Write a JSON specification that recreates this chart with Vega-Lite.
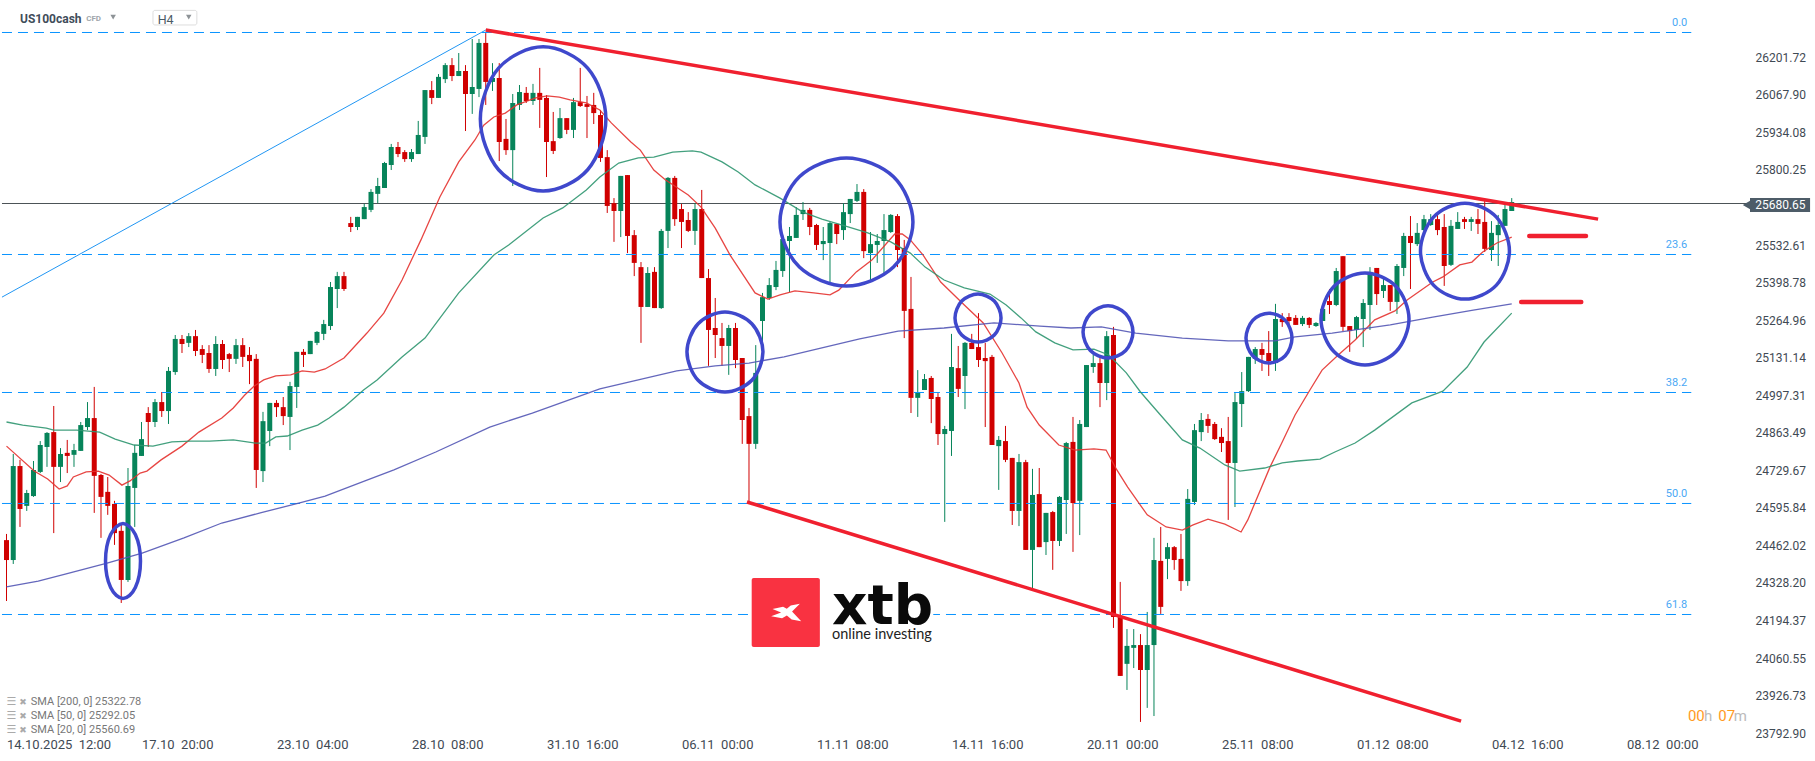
{"$schema":"https://vega.github.io/schema/vega-lite/v6.json","width":1750,"height":740,"autosize":"none","padding":{"left":0,"top":0,"right":65,"bottom":21},"background":"#ffffff","config":{"view":{"stroke":null},"font":"Roboto"},
"datasets":{
"candles":[{"i":0,"o":24481,"h":24503,"l":24264,"c":24410},{"i":1,"o":24410,"h":24788,"l":24396,"c":24745},{"i":2,"o":24745,"h":24767,"l":24528,"c":24592},{"i":3,"o":24603,"h":24660,"l":24585,"c":24649},{"i":4,"o":24638,"h":24763,"l":24635,"c":24731},{"i":5,"o":24724,"h":24834,"l":24720,"c":24820},{"i":6,"o":24813,"h":24866,"l":24742,"c":24863},{"i":7,"o":24866,"h":24959,"l":24506,"c":24742},{"i":8,"o":24742,"h":24809,"l":24688,"c":24788},{"i":9,"o":24792,"h":24838,"l":24720,"c":24781},{"i":10,"o":24785,"h":24824,"l":24742,"c":24802},{"i":11,"o":24799,"h":24902,"l":24799,"c":24891},{"i":12,"o":24884,"h":24973,"l":24873,"c":24916},{"i":13,"o":24916,"h":25027,"l":24578,"c":24710},{"i":14,"o":24713,"h":24717,"l":24489,"c":24635},{"i":15,"o":24653,"h":24706,"l":24571,"c":24603},{"i":16,"o":24610,"h":24621,"l":24464,"c":24506},{"i":17,"o":24514,"h":24542,"l":24257,"c":24339},{"i":18,"o":24339,"h":24738,"l":24332,"c":24674},{"i":19,"o":24667,"h":24820,"l":24528,"c":24792},{"i":20,"o":24781,"h":24902,"l":24781,"c":24841},{"i":21,"o":24934,"h":24955,"l":24813,"c":24902},{"i":22,"o":24902,"h":24984,"l":24884,"c":24973},{"i":23,"o":24973,"h":25009,"l":24920,"c":24941},{"i":24,"o":24941,"h":25098,"l":24895,"c":25084},{"i":25,"o":25080,"h":25212,"l":25070,"c":25198},{"i":26,"o":25198,"h":25212,"l":25148,"c":25180},{"i":27,"o":25184,"h":25219,"l":25169,"c":25208},{"i":28,"o":25208,"h":25230,"l":25137,"c":25155},{"i":29,"o":25162,"h":25176,"l":25112,"c":25141},{"i":30,"o":25148,"h":25176,"l":25077,"c":25091},{"i":31,"o":25091,"h":25208,"l":25066,"c":25180},{"i":32,"o":25180,"h":25194,"l":25091,"c":25123},{"i":33,"o":25144,"h":25148,"l":25080,"c":25127},{"i":34,"o":25127,"h":25198,"l":25109,"c":25176},{"i":35,"o":25176,"h":25201,"l":25098,"c":25134},{"i":36,"o":25141,"h":25169,"l":25037,"c":25119},{"i":37,"o":25127,"h":25144,"l":24667,"c":24731},{"i":38,"o":24727,"h":24938,"l":24688,"c":24905},{"i":39,"o":24870,"h":24970,"l":24816,"c":24970},{"i":40,"o":24970,"h":24980,"l":24920,"c":24955},{"i":41,"o":24955,"h":24991,"l":24891,"c":24923},{"i":42,"o":24920,"h":25045,"l":24802,"c":25030},{"i":43,"o":25027,"h":25152,"l":24952,"c":25152},{"i":44,"o":25152,"h":25162,"l":25098,"c":25141},{"i":45,"o":25144,"h":25191,"l":25144,"c":25191},{"i":46,"o":25184,"h":25226,"l":25176,"c":25223},{"i":47,"o":25216,"h":25266,"l":25194,"c":25251},{"i":48,"o":25244,"h":25401,"l":25230,"c":25383},{"i":49,"o":25376,"h":25437,"l":25308,"c":25422},{"i":50,"o":25422,"h":25437,"l":25369,"c":25376},{"i":51,"o":25611,"h":25633,"l":25579,"c":25597},{"i":52,"o":25597,"h":25633,"l":25586,"c":25633},{"i":53,"o":25625,"h":25679,"l":25625,"c":25668},{"i":54,"o":25658,"h":25732,"l":25650,"c":25722},{"i":55,"o":25715,"h":25772,"l":25682,"c":25743},{"i":56,"o":25736,"h":25829,"l":25736,"c":25825},{"i":57,"o":25818,"h":25893,"l":25800,"c":25882},{"i":58,"o":25882,"h":25900,"l":25846,"c":25857},{"i":59,"o":25864,"h":25871,"l":25829,"c":25839},{"i":60,"o":25839,"h":25875,"l":25829,"c":25864},{"i":61,"o":25857,"h":25975,"l":25857,"c":25925},{"i":62,"o":25918,"h":26085,"l":25893,"c":26085},{"i":63,"o":26085,"h":26117,"l":26035,"c":26057},{"i":64,"o":26057,"h":26142,"l":26057,"c":26132},{"i":65,"o":26124,"h":26181,"l":26110,"c":26174},{"i":66,"o":26174,"h":26199,"l":26117,"c":26135},{"i":67,"o":26135,"h":26217,"l":26135,"c":26153},{"i":68,"o":26153,"h":26174,"l":25939,"c":26071},{"i":69,"o":26071,"h":26267,"l":26000,"c":26096},{"i":70,"o":26089,"h":26267,"l":26060,"c":26253},{"i":71,"o":26253,"h":26288,"l":26032,"c":26114},{"i":72,"o":26114,"h":26181,"l":26082,"c":26128},{"i":73,"o":26128,"h":26181,"l":25832,"c":25900},{"i":74,"o":25911,"h":25982,"l":25854,"c":25871},{"i":75,"o":25871,"h":26071,"l":25743,"c":26039},{"i":76,"o":26032,"h":26103,"l":26014,"c":26078},{"i":77,"o":26075,"h":26096,"l":26039,"c":26046},{"i":78,"o":26046,"h":26107,"l":26032,"c":26075},{"i":79,"o":26075,"h":26164,"l":25950,"c":26050},{"i":80,"o":26057,"h":26067,"l":25775,"c":25900},{"i":81,"o":25903,"h":26007,"l":25857,"c":25868},{"i":82,"o":25914,"h":26021,"l":25911,"c":25985},{"i":83,"o":25985,"h":25985,"l":25928,"c":25943},{"i":84,"o":25943,"h":26057,"l":25914,"c":26042},{"i":85,"o":26042,"h":26164,"l":26025,"c":26028},{"i":86,"o":26035,"h":26064,"l":25914,"c":26025},{"i":87,"o":26032,"h":26075,"l":25964,"c":26003},{"i":88,"o":25996,"h":26014,"l":25829,"c":25843},{"i":89,"o":25846,"h":25871,"l":25647,"c":25672},{"i":90,"o":25682,"h":25700,"l":25544,"c":25654},{"i":91,"o":25654,"h":25779,"l":25561,"c":25779},{"i":92,"o":25782,"h":25782,"l":25504,"c":25565},{"i":93,"o":25568,"h":25586,"l":25422,"c":25469},{"i":94,"o":25454,"h":25472,"l":25184,"c":25312},{"i":95,"o":25312,"h":25454,"l":25312,"c":25433},{"i":96,"o":25437,"h":25454,"l":25308,"c":25308},{"i":97,"o":25308,"h":25590,"l":25305,"c":25583},{"i":98,"o":25583,"h":25775,"l":25522,"c":25772},{"i":99,"o":25772,"h":25779,"l":25601,"c":25625},{"i":100,"o":25661,"h":25679,"l":25522,"c":25615},{"i":101,"o":25622,"h":25650,"l":25579,"c":25583},{"i":102,"o":25583,"h":25682,"l":25533,"c":25661},{"i":103,"o":25661,"h":25729,"l":25415,"c":25415},{"i":104,"o":25415,"h":25447,"l":25102,"c":25230},{"i":105,"o":25237,"h":25344,"l":25130,"c":25212},{"i":106,"o":25201,"h":25255,"l":25102,"c":25173},{"i":107,"o":25173,"h":25248,"l":25070,"c":25237},{"i":108,"o":25237,"h":25255,"l":25094,"c":25123},{"i":109,"o":25130,"h":25130,"l":24824,"c":24909},{"i":110,"o":24923,"h":24952,"l":24617,"c":24824},{"i":111,"o":24824,"h":25176,"l":24806,"c":25077},{"i":112,"o":25262,"h":25362,"l":25169,"c":25347},{"i":113,"o":25344,"h":25415,"l":25337,"c":25390},{"i":114,"o":25383,"h":25476,"l":25372,"c":25444},{"i":115,"o":25440,"h":25568,"l":25419,"c":25554},{"i":116,"o":25547,"h":25597,"l":25365,"c":25565},{"i":117,"o":25558,"h":25668,"l":25558,"c":25640},{"i":118,"o":25643,"h":25686,"l":25622,"c":25658},{"i":119,"o":25658,"h":25665,"l":25568,"c":25597},{"i":120,"o":25604,"h":25608,"l":25515,"c":25533},{"i":121,"o":25536,"h":25597,"l":25479,"c":25547},{"i":122,"o":25540,"h":25615,"l":25397,"c":25611},{"i":123,"o":25608,"h":25608,"l":25536,"c":25572},{"i":124,"o":25586,"h":25682,"l":25551,"c":25650},{"i":125,"o":25643,"h":25697,"l":25611,"c":25697},{"i":126,"o":25690,"h":25750,"l":25686,"c":25722},{"i":127,"o":25722,"h":25732,"l":25486,"c":25511},{"i":128,"o":25504,"h":25579,"l":25408,"c":25536},{"i":129,"o":25533,"h":25572,"l":25469,"c":25547},{"i":130,"o":25547,"h":25643,"l":25429,"c":25586},{"i":131,"o":25579,"h":25643,"l":25576,"c":25640},{"i":132,"o":25636,"h":25643,"l":25454,"c":25515},{"i":133,"o":25522,"h":25551,"l":25201,"c":25298},{"i":134,"o":25305,"h":25419,"l":24934,"c":24988},{"i":135,"o":24988,"h":25087,"l":24920,"c":25009},{"i":136,"o":25016,"h":25073,"l":25016,"c":25055},{"i":137,"o":25059,"h":25066,"l":24898,"c":24984},{"i":138,"o":24991,"h":25005,"l":24820,"c":24859},{"i":139,"o":24859,"h":24888,"l":24546,"c":24877},{"i":140,"o":24870,"h":25216,"l":24781,"c":25098},{"i":141,"o":25094,"h":25173,"l":24991,"c":25020},{"i":142,"o":25066,"h":25187,"l":24948,"c":25184},{"i":143,"o":25184,"h":25216,"l":25162,"c":25162},{"i":144,"o":25169,"h":25290,"l":25098,"c":25123},{"i":145,"o":25130,"h":25184,"l":24884,"c":25119},{"i":146,"o":25134,"h":25141,"l":24820,"c":24820},{"i":147,"o":24816,"h":24852,"l":24660,"c":24838},{"i":148,"o":24834,"h":24888,"l":24759,"c":24767},{"i":149,"o":24774,"h":24774,"l":24535,"c":24585},{"i":150,"o":24585,"h":24788,"l":24531,"c":24759},{"i":151,"o":24759,"h":24767,"l":24446,"c":24446},{"i":152,"o":24446,"h":24735,"l":24310,"c":24642},{"i":153,"o":24645,"h":24738,"l":24456,"c":24456},{"i":154,"o":24474,"h":24578,"l":24428,"c":24578},{"i":155,"o":24581,"h":24585,"l":24375,"c":24478},{"i":156,"o":24478,"h":24638,"l":24460,"c":24635},{"i":157,"o":24624,"h":24831,"l":24503,"c":24827},{"i":158,"o":24831,"h":24920,"l":24439,"c":24613},{"i":159,"o":24621,"h":24909,"l":24499,"c":24895},{"i":160,"o":24884,"h":25105,"l":24884,"c":25105},{"i":161,"o":25098,"h":25141,"l":25077,"c":25112},{"i":162,"o":25112,"h":25130,"l":24955,"c":25041},{"i":163,"o":25041,"h":25226,"l":24980,"c":25208},{"i":164,"o":25212,"h":25241,"l":24168,"c":24207},{"i":165,"o":24211,"h":24332,"l":23997,"c":23997},{"i":166,"o":24040,"h":24164,"l":23947,"c":24104},{"i":167,"o":24097,"h":24164,"l":24025,"c":24107},{"i":168,"o":24107,"h":24146,"l":23833,"c":24018},{"i":169,"o":24018,"h":24225,"l":23883,"c":24107},{"i":170,"o":24107,"h":24489,"l":23854,"c":24410},{"i":171,"o":24407,"h":24528,"l":24218,"c":24243},{"i":172,"o":24414,"h":24471,"l":24342,"c":24456},{"i":173,"o":24456,"h":24460,"l":24375,"c":24410},{"i":174,"o":24414,"h":24503,"l":24300,"c":24335},{"i":175,"o":24335,"h":24663,"l":24318,"c":24628},{"i":176,"o":24617,"h":24895,"l":24606,"c":24873},{"i":177,"o":24866,"h":24934,"l":24834,"c":24909},{"i":178,"o":24913,"h":24930,"l":24863,"c":24888},{"i":179,"o":24895,"h":24902,"l":24838,"c":24841},{"i":180,"o":24849,"h":24880,"l":24795,"c":24827},{"i":181,"o":24834,"h":24920,"l":24553,"c":24756},{"i":182,"o":24756,"h":25005,"l":24599,"c":24973},{"i":183,"o":24966,"h":25080,"l":24884,"c":25012},{"i":184,"o":25012,"h":25134,"l":25009,"c":25134},{"i":185,"o":25127,"h":25169,"l":25109,"c":25162},{"i":186,"o":25162,"h":25184,"l":25084,"c":25141},{"i":187,"o":25148,"h":25226,"l":25066,"c":25119},{"i":188,"o":25112,"h":25323,"l":25084,"c":25269},{"i":189,"o":25269,"h":25290,"l":25241,"c":25258},{"i":190,"o":25276,"h":25290,"l":25248,"c":25262},{"i":191,"o":25273,"h":25283,"l":25248,"c":25248},{"i":192,"o":25251,"h":25280,"l":25244,"c":25273},{"i":193,"o":25273,"h":25276,"l":25237,"c":25248},{"i":194,"o":25244,"h":25258,"l":25241,"c":25255},{"i":195,"o":25262,"h":25319,"l":25262,"c":25305},{"i":196,"o":25333,"h":25376,"l":25287,"c":25319},{"i":197,"o":25319,"h":25451,"l":25315,"c":25440},{"i":198,"o":25493,"h":25493,"l":25226,"c":25241},{"i":199,"o":25244,"h":25244,"l":25152,"c":25226},{"i":200,"o":25230,"h":25280,"l":25198,"c":25276},{"i":201,"o":25269,"h":25340,"l":25169,"c":25326},{"i":202,"o":25319,"h":25454,"l":25230,"c":25437},{"i":203,"o":25451,"h":25451,"l":25319,"c":25358},{"i":204,"o":25369,"h":25412,"l":25344,"c":25390},{"i":205,"o":25390,"h":25390,"l":25298,"c":25330},{"i":206,"o":25330,"h":25465,"l":25287,"c":25458},{"i":207,"o":25451,"h":25576,"l":25422,"c":25565},{"i":208,"o":25565,"h":25636,"l":25376,"c":25540},{"i":209,"o":25536,"h":25611,"l":25529,"c":25576},{"i":210,"o":25586,"h":25640,"l":25583,"c":25625},{"i":211,"o":25604,"h":25643,"l":25601,"c":25625},{"i":212,"o":25625,"h":25643,"l":25568,"c":25586},{"i":213,"o":25597,"h":25643,"l":25387,"c":25458},{"i":214,"o":25462,"h":25622,"l":25458,"c":25601},{"i":215,"o":25590,"h":25650,"l":25590,"c":25615},{"i":216,"o":25625,"h":25633,"l":25590,"c":25615},{"i":217,"o":25615,"h":25633,"l":25583,"c":25625},{"i":218,"o":25625,"h":25661,"l":25572,"c":25608},{"i":219,"o":25615,"h":25693,"l":25508,"c":25519},{"i":220,"o":25515,"h":25618,"l":25476,"c":25576},{"i":221,"o":25568,"h":25640,"l":25458,"c":25604},{"i":222,"o":25601,"h":25679,"l":25601,"c":25661},{"i":223,"o":25654,"h":25700,"l":25654,"c":25686}],
"sma":[{"s":"20","i":0,"p":24816},{"s":"20","i":4.1,"p":24727},{"s":"20","i":6.1,"p":24699},{"s":"20","i":7.8,"p":24663},{"s":"20","i":9,"p":24674},{"s":"20","i":9.9,"p":24706},{"s":"20","i":11.8,"p":24724},{"s":"20","i":13.6,"p":24727},{"s":"20","i":15.2,"p":24713},{"s":"20","i":17.1,"p":24677},{"s":"20","i":18.3,"p":24692},{"s":"20","i":19.8,"p":24720},{"s":"20","i":20.8,"p":24727},{"s":"20","i":22.9,"p":24767},{"s":"20","i":26,"p":24816},{"s":"20","i":28.5,"p":24866},{"s":"20","i":31.9,"p":24916},{"s":"20","i":33.6,"p":24952},{"s":"20","i":35.3,"p":24998},{"s":"20","i":36.7,"p":25030},{"s":"20","i":38.1,"p":25052},{"s":"20","i":39.9,"p":25066},{"s":"20","i":42.1,"p":25070},{"s":"20","i":43.8,"p":25084},{"s":"20","i":45.6,"p":25080},{"s":"20","i":47.2,"p":25091},{"s":"20","i":50,"p":25130},{"s":"20","i":53.4,"p":25219},{"s":"20","i":55.9,"p":25290},{"s":"20","i":58.6,"p":25408},{"s":"20","i":61.4,"p":25551},{"s":"20","i":64.2,"p":25704},{"s":"20","i":67,"p":25829},{"s":"20","i":69.4,"p":25907},{"s":"20","i":70.7,"p":25960},{"s":"20","i":72.2,"p":25989},{"s":"20","i":73.9,"p":26003},{"s":"20","i":75.6,"p":26032},{"s":"20","i":78.4,"p":26057},{"s":"20","i":80.1,"p":26064},{"s":"20","i":81.9,"p":26060},{"s":"20","i":83.5,"p":26050},{"s":"20","i":85.9,"p":26039},{"s":"20","i":87.9,"p":26014},{"s":"20","i":89.6,"p":25968},{"s":"20","i":92.5,"p":25900},{"s":"20","i":93.9,"p":25871},{"s":"20","i":95.9,"p":25800},{"s":"20","i":97.6,"p":25765},{"s":"20","i":101,"p":25711},{"s":"20","i":102.9,"p":25668},{"s":"20","i":105,"p":25593},{"s":"20","i":107.2,"p":25497},{"s":"20","i":110.9,"p":25362},{"s":"20","i":112.8,"p":25340},{"s":"20","i":114.6,"p":25355},{"s":"20","i":116.8,"p":25369},{"s":"20","i":119.6,"p":25362},{"s":"20","i":122,"p":25355},{"s":"20","i":123.3,"p":25372},{"s":"20","i":125.9,"p":25437},{"s":"20","i":128.2,"p":25479},{"s":"20","i":131.6,"p":25572},{"s":"20","i":132.7,"p":25572},{"s":"20","i":133.9,"p":25551},{"s":"20","i":135.8,"p":25497},{"s":"20","i":138.4,"p":25401},{"s":"20","i":141.9,"p":25319},{"s":"20","i":144.7,"p":25255},{"s":"20","i":147.5,"p":25148},{"s":"20","i":150,"p":25041},{"s":"20","i":151.2,"p":24955},{"s":"20","i":153,"p":24891},{"s":"20","i":155.9,"p":24820},{"s":"20","i":158.3,"p":24802},{"s":"20","i":161.1,"p":24806},{"s":"20","i":162.9,"p":24802},{"s":"20","i":164.5,"p":24731},{"s":"20","i":166.1,"p":24670},{"s":"20","i":169,"p":24571},{"s":"20","i":171.8,"p":24528},{"s":"20","i":174.2,"p":24517},{"s":"20","i":175.8,"p":24535},{"s":"20","i":178,"p":24556},{"s":"20","i":180.5,"p":24538},{"s":"20","i":182.9,"p":24510},{"s":"20","i":183.9,"p":24553},{"s":"20","i":187.2,"p":24742},{"s":"20","i":189,"p":24831},{"s":"20","i":190.9,"p":24927},{"s":"20","i":193.1,"p":25016},{"s":"20","i":194.9,"p":25087},{"s":"20","i":197.3,"p":25141},{"s":"20","i":199.8,"p":25194},{"s":"20","i":202.7,"p":25266},{"s":"20","i":205.7,"p":25298},{"s":"20","i":207.5,"p":25337},{"s":"20","i":211.3,"p":25401},{"s":"20","i":212.8,"p":25419},{"s":"20","i":215.3,"p":25462},{"s":"20","i":217.1,"p":25472},{"s":"20","i":218.7,"p":25508},{"s":"20","i":220.8,"p":25540},{"s":"20","i":223,"p":25561},
{"s":"50","i":0,"p":24902},{"s":"50","i":2.4,"p":24891},{"s":"50","i":5.9,"p":24880},{"s":"50","i":7,"p":24873},{"s":"50","i":10.4,"p":24873},{"s":"50","i":13.8,"p":24866},{"s":"50","i":16.1,"p":24841},{"s":"50","i":18.9,"p":24820},{"s":"50","i":21.7,"p":24816},{"s":"50","i":24.5,"p":24831},{"s":"50","i":27.3,"p":24834},{"s":"50","i":30.1,"p":24834},{"s":"50","i":33.6,"p":24838},{"s":"50","i":36.9,"p":24827},{"s":"50","i":38.4,"p":24827},{"s":"50","i":39.9,"p":24849},{"s":"50","i":41.6,"p":24852},{"s":"50","i":43.8,"p":24873},{"s":"50","i":46.1,"p":24891},{"s":"50","i":47.8,"p":24916},{"s":"50","i":50,"p":24955},{"s":"50","i":52.9,"p":25016},{"s":"50","i":54.9,"p":25052},{"s":"50","i":58.6,"p":25134},{"s":"50","i":62,"p":25201},{"s":"50","i":67,"p":25362},{"s":"50","i":72.2,"p":25497},{"s":"50","i":74.4,"p":25533},{"s":"50","i":79.5,"p":25629},{"s":"50","i":82.4,"p":25665},{"s":"50","i":85.9,"p":25729},{"s":"50","i":87.9,"p":25775},{"s":"50","i":90.7,"p":25825},{"s":"50","i":93.6,"p":25843},{"s":"50","i":95.9,"p":25846},{"s":"50","i":98.7,"p":25864},{"s":"50","i":101.6,"p":25868},{"s":"50","i":102.9,"p":25864},{"s":"50","i":106,"p":25829},{"s":"50","i":108.4,"p":25793},{"s":"50","i":110.9,"p":25747},{"s":"50","i":114.6,"p":25700},{"s":"50","i":118,"p":25650},{"s":"50","i":120.8,"p":25625},{"s":"50","i":124.2,"p":25601},{"s":"50","i":127.6,"p":25576},{"s":"50","i":131,"p":25544},{"s":"50","i":133.9,"p":25504},{"s":"50","i":136.1,"p":25454},{"s":"50","i":138.9,"p":25408},{"s":"50","i":141.9,"p":25380},{"s":"50","i":145.7,"p":25358},{"s":"50","i":148.1,"p":25319},{"s":"50","i":150.3,"p":25273},{"s":"50","i":152.5,"p":25223},{"s":"50","i":155.3,"p":25184},{"s":"50","i":158,"p":25159},{"s":"50","i":161.1,"p":25162},{"s":"50","i":163.3,"p":25141},{"s":"50","i":165.9,"p":25077},{"s":"50","i":168,"p":25009},{"s":"50","i":170.7,"p":24934},{"s":"50","i":174.2,"p":24838},{"s":"50","i":176.8,"p":24809},{"s":"50","i":180.5,"p":24749},{"s":"50","i":182.7,"p":24727},{"s":"50","i":186.4,"p":24738},{"s":"50","i":189,"p":24756},{"s":"50","i":191.3,"p":24763},{"s":"50","i":194.6,"p":24770},{"s":"50","i":196.8,"p":24795},{"s":"50","i":199.8,"p":24827},{"s":"50","i":202.7,"p":24873},{"s":"50","i":208.2,"p":24970},{"s":"50","i":212.8,"p":25012},{"s":"50","i":216.4,"p":25098},{"s":"50","i":218.9,"p":25187},{"s":"50","i":223,"p":25290},
{"s":"200","i":0,"p":24314},{"s":"200","i":4.7,"p":24335},{"s":"200","i":8.7,"p":24360},{"s":"200","i":14.9,"p":24399},{"s":"200","i":20.1,"p":24435},{"s":"200","i":26.3,"p":24489},{"s":"200","i":31.9,"p":24542},{"s":"200","i":37.6,"p":24578},{"s":"200","i":43.3,"p":24613},{"s":"200","i":47.2,"p":24638},{"s":"200","i":53.4,"p":24695},{"s":"200","i":57.4,"p":24731},{"s":"200","i":63.6,"p":24795},{"s":"200","i":71.6,"p":24884},{"s":"200","i":77.9,"p":24934},{"s":"200","i":87.9,"p":25020},{"s":"200","i":93.6,"p":25052},{"s":"200","i":99.3,"p":25084},{"s":"200","i":105,"p":25102},{"s":"200","i":110,"p":25112},{"s":"200","i":115.2,"p":25134},{"s":"200","i":120.8,"p":25166},{"s":"200","i":126.4,"p":25198},{"s":"200","i":132.1,"p":25226},{"s":"200","i":138.9,"p":25237},{"s":"200","i":146.3,"p":25255},{"s":"200","i":153.1,"p":25244},{"s":"200","i":157.7,"p":25237},{"s":"200","i":162.2,"p":25241},{"s":"200","i":167.3,"p":25219},{"s":"200","i":174.2,"p":25201},{"s":"200","i":181,"p":25191},{"s":"200","i":187.9,"p":25191},{"s":"200","i":190.9,"p":25205},{"s":"200","i":196.4,"p":25219},{"s":"200","i":205,"p":25248},{"s":"200","i":211.3,"p":25276},{"s":"200","i":217.3,"p":25301},{"s":"200","i":223,"p":25323}],
"fib":[{"t":"0.0","p":26290.17,"i":-0.67,"i2":249.6},{"t":"23.6","p":25498.96,"i":-0.67,"i2":249.6},{"t":"38.2","p":25007.13,"i":-0.67,"i2":249.6},{"t":"50.0","p":24611.6,"i":-0.67,"i2":249.6},{"t":"61.8","p":24215.9,"i":-0.67,"i2":249.6}],
"trend":[{"id":"a","i":71,"p":26299},{"id":"a","i":235.8,"p":25625},{"id":"b","i":109.7,"p":24617},{"id":"b","i":215.5,"p":23836}],
"levels":[{"id":"c","i":225.6,"p":25565},{"id":"c","i":234,"p":25565},{"id":"d","i":224.4,"p":25330},{"id":"d","i":233.3,"p":25330}],
"fan":[{"i":-0.67,"p":25347},{"i":71,"p":26299}],
"ellipses":[{"e":1,"k":0,"i":88.8,"p":25982},{"e":1,"k":1,"i":86.1,"p":25801},{"e":1,"k":2,"i":79.5,"p":25725},{"e":1,"k":3,"i":72.9,"p":25801},{"e":1,"k":4,"i":70.2,"p":25982},{"e":1,"k":5,"i":72.9,"p":26163},{"e":1,"k":6,"i":79.5,"p":26239},{"e":1,"k":7,"i":86.1,"p":26163},
{"e":2,"k":0,"i":19.85,"p":24407},{"e":2,"k":1,"i":19.09,"p":24312},{"e":2,"k":2,"i":17.26,"p":24273},{"e":2,"k":3,"i":15.43,"p":24312},{"e":2,"k":4,"i":14.67,"p":24407},{"e":2,"k":5,"i":15.43,"p":24501},{"e":2,"k":6,"i":17.26,"p":24540},{"e":2,"k":7,"i":19.09,"p":24501},
{"e":3,"k":0,"i":112.07,"p":25152},{"e":3,"k":1,"i":110.42,"p":25051},{"e":3,"k":2,"i":106.44,"p":25009},{"e":3,"k":3,"i":102.46,"p":25051},{"e":3,"k":4,"i":100.81,"p":25152},{"e":3,"k":5,"i":102.46,"p":25252},{"e":3,"k":6,"i":106.44,"p":25294},{"e":3,"k":7,"i":110.42,"p":25252},
{"e":4,"k":0,"i":134.29,"p":25615},{"e":4,"k":1,"i":131.41,"p":25454},{"e":4,"k":2,"i":124.44,"p":25387},{"e":4,"k":3,"i":117.47,"p":25454},{"e":4,"k":4,"i":114.59,"p":25615},{"e":4,"k":5,"i":117.47,"p":25776},{"e":4,"k":6,"i":124.44,"p":25843},{"e":4,"k":7,"i":131.41,"p":25776},
{"e":5,"k":0,"i":147.34,"p":25273},{"e":5,"k":1,"i":146.34,"p":25212},{"e":5,"k":2,"i":143.93,"p":25187},{"e":5,"k":3,"i":141.52,"p":25212},{"e":5,"k":4,"i":140.52,"p":25273},{"e":5,"k":5,"i":141.52,"p":25333},{"e":5,"k":6,"i":143.93,"p":25358},{"e":5,"k":7,"i":146.34,"p":25333},
{"e":6,"k":0,"i":166.89,"p":25223},{"e":6,"k":1,"i":165.81,"p":25157},{"e":6,"k":2,"i":163.19,"p":25130},{"e":6,"k":3,"i":160.57,"p":25157},{"e":6,"k":4,"i":159.49,"p":25223},{"e":6,"k":5,"i":160.57,"p":25288},{"e":6,"k":6,"i":163.19,"p":25316},{"e":6,"k":7,"i":165.81,"p":25288},
{"e":7,"k":0,"i":190.45,"p":25201},{"e":7,"k":1,"i":189.45,"p":25138},{"e":7,"k":2,"i":187.04,"p":25112},{"e":7,"k":3,"i":184.63,"p":25138},{"e":7,"k":4,"i":183.63,"p":25201},{"e":7,"k":5,"i":184.63,"p":25264},{"e":7,"k":6,"i":187.04,"p":25290},{"e":7,"k":7,"i":189.45,"p":25264},
{"e":8,"k":0,"i":207.78,"p":25269},{"e":8,"k":1,"i":205.87,"p":25153},{"e":8,"k":2,"i":201.26,"p":25105},{"e":8,"k":3,"i":196.65,"p":25153},{"e":8,"k":4,"i":194.74,"p":25269},{"e":8,"k":5,"i":196.65,"p":25385},{"e":8,"k":6,"i":201.26,"p":25433},{"e":8,"k":7,"i":205.87,"p":25385},
{"e":9,"k":0,"i":222.66,"p":25511},{"e":9,"k":1,"i":220.73,"p":25390},{"e":9,"k":2,"i":216.07,"p":25340},{"e":9,"k":3,"i":211.41,"p":25390},{"e":9,"k":4,"i":209.48,"p":25511},{"e":9,"k":5,"i":211.41,"p":25632},{"e":9,"k":6,"i":216.07,"p":25682},{"e":9,"k":7,"i":220.73,"p":25632}]
},
"encoding":{"x":{"field":"i","type":"quantitative","title":null,"scale":{"domain":[-0.963,258.3],"nice":false,"zero":false,"padding":0},"axis":{"values":[0,20,40,60,80,100,120,140,160,180,200,220,240],"labelExpr":"{'0':'14.10.2025\u00a0 12:00','20':'17.10\u00a0 20:00','40':'23.10\u00a0 04:00','60':'28.10\u00a0 08:00','80':'31.10\u00a0 16:00','100':'06.11\u00a0 00:00','120':'11.11\u00a0 08:00','140':'14.11\u00a0 16:00','160':'20.11\u00a0 00:00','180':'25.11\u00a0 08:00','200':'01.12\u00a0 08:00','220':'04.12\u00a0 16:00','240':'08.12\u00a0 00:00'}[''+datum.value]","domain":false,"ticks":false,"grid":false,"labelAlign":"left","labelBaseline":"middle","labelPadding":4,"labelFont":"Roboto","labelFontSize":13,"labelColor":"#3f4a54","labelOverlap":false,"labelFlush":false,"labelBound":false}},
"y":{"field":"p","type":"quantitative","title":null,"scale":{"domain":[23768.6,26406],"nice":false,"zero":false,"padding":0},"axis":{"orient":"right","values":[26201.72,26067.9,25934.08,25800.25,25532.61,25398.78,25264.96,25131.14,24997.31,24863.49,24729.67,24595.84,24462.02,24328.2,24194.37,24060.55,23926.73,23792.9],"format":".2f","domain":false,"ticks":false,"grid":false,"labelPadding":5,"labelFont":"Roboto","labelFontSize":12,"labelColor":"#3f4a54","labelOverlap":false,"labelFlush":false,"labelBound":false}}},
"layer":[
{"data":{"values":[{"i":-0.67,"p":25680.65},{"i":258,"p":25680.65}]},"mark":{"type":"line","color":"#4c5357","strokeWidth":1.2}},
{"data":{"name":"fan"},"mark":{"type":"line","color":"#2196f3","strokeWidth":1}},
{"data":{"name":"candles"},"mark":{"type":"rule","strokeWidth":1},"encoding":{"y":{"field":"h","type":"quantitative","title":null,"axis":{"orient":"right","values":[26201.72,26067.9,25934.08,25800.25,25532.61,25398.78,25264.96,25131.14,24997.31,24863.49,24729.67,24595.84,24462.02,24328.2,24194.37,24060.55,23926.73,23792.9],"format":".2f","domain":false,"ticks":false,"grid":false,"labelPadding":5,"labelFont":"Roboto","labelFontSize":12,"labelColor":"#3f4a54","labelOverlap":false,"labelFlush":false,"labelBound":false}},"y2":{"field":"l"},"color":{"condition":{"test":"datum.c>=datum.o","value":"#07845a"},"value":"#d00000"}}},
{"data":{"name":"candles"},"mark":{"type":"bar","size":5},"encoding":{"y":{"field":"o","type":"quantitative","title":null,"axis":{"orient":"right","values":[26201.72,26067.9,25934.08,25800.25,25532.61,25398.78,25264.96,25131.14,24997.31,24863.49,24729.67,24595.84,24462.02,24328.2,24194.37,24060.55,23926.73,23792.9],"format":".2f","domain":false,"ticks":false,"grid":false,"labelPadding":5,"labelFont":"Roboto","labelFontSize":12,"labelColor":"#3f4a54","labelOverlap":false,"labelFlush":false,"labelBound":false}},"y2":{"field":"c"},"color":{"condition":{"test":"datum.c>=datum.o","value":"#07845a"},"value":"#d00000"}}},
{"data":{"name":"fib"},"mark":{"type":"rule","color":"#0a94ff","strokeWidth":1,"strokeDash":[10,6]},"encoding":{"x2":{"field":"i2"}}},
{"data":{"name":"fib"},"mark":{"type":"text","align":"right","baseline":"bottom","dy":-4,"color":"#4aa8f5","font":"Roboto","fontSize":11},"encoding":{"x":{"datum":249,"type":"quantitative"},"text":{"field":"t"}}},
{"data":{"values":[{"i":110.4,"i2":137.3,"p":24346,"p2":24100}]},"mark":{"type":"rect","color":"#ffffff"},"encoding":{"x2":{"field":"i2"},"y2":{"field":"p2"}}},
{"data":{"values":[{"i":110.4,"i2":120.5,"p":24346,"p2":24100}]},"mark":{"type":"rect","color":"#f93241","cornerRadius":2},"encoding":{"x2":{"field":"i2"},"y2":{"field":"p2"}}},
{"data":{"values":[{"i":115.5,"p":24223}]},"mark":{"type":"point","filled":true,"opacity":1,"color":"#ffffff","strokeWidth":0,"size":4624,"shape":"M-0.4,-0.1L-0.09,-0.17L0.02,-0.11L0.136,-0.209L0.405,-0.257L0.175,-0.026L0.444,0.257L0.163,0.209L0.022,0.085L-0.118,0.169L-0.44,0.11L-0.147,-0.003Z"}},
{"data":{"values":[{"i":122.3,"p":24182,"t":"xtb"}]},"mark":{"type":"text","align":"left","baseline":"alphabetic","font":"DejaVu Sans","fontWeight":"bold","fontSize":55,"color":"#0a0a0a"},"encoding":{"text":{"field":"t"}}},
{"data":{"values":[{"i":122.3,"p":24144,"t":"online investing"}]},"mark":{"type":"text","align":"left","baseline":"middle","font":"Lato","fontSize":14.5,"color":"#222222"},"encoding":{"text":{"field":"t"}}},
{"data":{"name":"sma"},"mark":{"type":"line","strokeWidth":1.3,"opacity":0.9},"encoding":{"color":{"field":"s","type":"nominal","legend":null,"scale":{"domain":["20","50","200"],"range":["#e4322f","#2f9670","#5357b5"]}}}},
{"data":{"name":"ellipses"},"mark":{"type":"line","interpolate":"cardinal-closed","color":"#3f48cc","strokeWidth":3.5},"encoding":{"detail":{"field":"e"},"order":{"field":"k"}}},
{"data":{"name":"trend"},"mark":{"type":"line","color":"#f0202f","strokeWidth":3.5},"encoding":{"detail":{"field":"id"}}},
{"data":{"name":"levels"},"mark":{"type":"line","color":"#f0202f","strokeWidth":4.5,"strokeCap":"round"},"encoding":{"detail":{"field":"id"}}},
{"data":{"values":[{"i":258.3,"i2":267.2,"p":25700,"p2":25650}]},"mark":{"type":"rect","color":"#4d5c68"},"encoding":{"x2":{"field":"i2"},"y2":{"field":"p2"}}},
{"data":{"values":[{"i":257.9,"p":25675}]},"mark":{"type":"point","shape":"triangle-left","filled":true,"opacity":1,"color":"#4d5c68","size":110}},
{"data":{"values":[{"i":262.8,"p":25675,"t":"25680.65"}]},"mark":{"type":"text","align":"center","baseline":"middle","font":"Roboto","fontSize":12,"color":"#ffffff"},"encoding":{"text":{"field":"t"}}},
{"data":{"values":[{"i":2,"p":26338,"t":"US100cash"}]},"mark":{"type":"text","align":"left","baseline":"middle","font":"Roboto","fontWeight":"bold","fontSize":12,"color":"#3f4d5a"},"encoding":{"text":{"field":"t"}}},
{"data":{"values":[{"i":11.8,"p":26338,"t":"CFD"}]},"mark":{"type":"text","align":"left","baseline":"middle","font":"Roboto","fontWeight":"bold","fontSize":8,"color":"#a0a6ab"},"encoding":{"text":{"field":"t"}}},
{"data":{"values":[{"i":21.7,"i2":28.2,"p":26369,"p2":26317}]},"mark":{"type":"rect","color":"#ffffff","stroke":"#dddddd","strokeWidth":1,"cornerRadius":2},"encoding":{"x2":{"field":"i2"},"y2":{"field":"p2"}}},
{"data":{"values":[{"i":22.4,"p":26336,"t":"H4"}]},"mark":{"type":"text","align":"left","baseline":"middle","font":"Roboto","fontSize":12.5,"color":"#4a5a66"},"encoding":{"text":{"field":"t"}}},
{"data":{"values":[{"i":15.8,"p":26345},{"i":27,"p":26345}]},"mark":{"type":"point","shape":"triangle-down","filled":true,"opacity":1,"color":"#8d9296","size":30}},
{"data":{"values":[{"i":0,"p":23904,"t":"☰"},{"i":0,"p":23854,"t":"☰"},{"i":0,"p":23804,"t":"☰"}]},"mark":{"type":"text","align":"left","baseline":"middle","font":"DejaVu Sans","fontSize":11,"color":"#aaaaaa"},"encoding":{"text":{"field":"t"}}},
{"data":{"values":[{"i":1.9,"p":23904,"t":"✖"},{"i":1.9,"p":23854,"t":"✖"},{"i":1.9,"p":23804,"t":"✖"}]},"mark":{"type":"text","align":"left","baseline":"middle","font":"DejaVu Sans","fontSize":9,"color":"#aaaaaa"},"encoding":{"text":{"field":"t"}}},
{"data":{"values":[{"i":3.6,"p":23904,"t":"SMA [200,  0] 25322.78"},{"i":3.6,"p":23854,"t":"SMA [50,  0] 25292.05"},{"i":3.6,"p":23804,"t":"SMA [20,  0] 25560.69"}]},"mark":{"type":"text","align":"left","baseline":"middle","font":"Roboto","fontSize":11,"color":"#777777"},"encoding":{"text":{"field":"t"}}},
{"data":{"values":[{"i":249.1,"p":23854,"t":"00"},{"i":253.6,"p":23854,"t":"07"}]},"mark":{"type":"text","align":"left","baseline":"middle","font":"Roboto","fontSize":15,"color":"#ff9a1f"},"encoding":{"text":{"field":"t"}}},
{"data":{"values":[{"i":251.5,"p":23854,"t":"h"},{"i":255.9,"p":23854,"t":"m"}]},"mark":{"type":"text","align":"left","baseline":"middle","font":"Roboto","fontSize":15,"color":"#bbbbbb"},"encoding":{"text":{"field":"t"}}}
]}
